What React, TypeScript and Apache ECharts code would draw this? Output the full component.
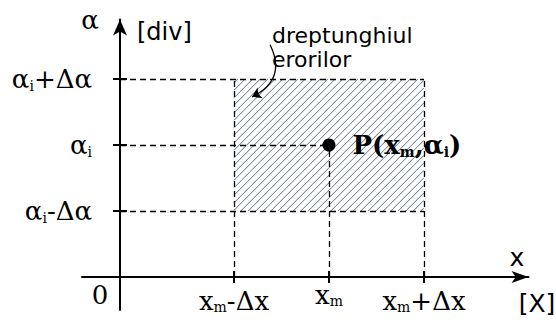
import React, { useEffect, useRef } from 'react';
import * as echarts from 'echarts';

// Tick positions (data units: Δx = 1, Δα = 1)
const xTicks = [1.2, 2.2, 3.2]; // xm-Δx, xm, xm+Δx
const xTickLabels = ['{b|x}{s|m}{b|-Δx}', '{h|x}{hs|m}', '{b|x}{s|m}{b|+Δx}'];
const yTicks = [1, 2, 3]; // αi-Δα, αi, αi+Δα
const yTickLabels = ['{b|α}{s|i}{b|-Δα}', '{b|α}{s|i}', '{b|α}{s|i}{b|+Δα}'];

// Measured point P(xm, αi)
const pointP = [2.2, 2];
// Error rectangle corners [xm-Δx, αi-Δα, xm+Δx, αi+Δα]
const errorRect = [1.2, 1, 3.2, 3];
// Leader from the caption to the rectangle
const leader = [
  [1.58, 3.52],
  [1.39, 2.73],
];

const SERIF = 'DejaVu Serif';
const SANS = 'DejaVu Sans';

export default function App() {
  const ref = useRef<HTMLDivElement>(null);

  useEffect(() => {
    if (!ref.current) return;
    const chart = echarts.init(ref.current, null, { renderer: 'svg' });

    const [rx0, ry0, rx1, ry1] = errorRect;
    const guides = [
      [[0, ry1], [rx1, ry1]],
      [[0, pointP[1]], [pointP[0], pointP[1]]],
      [[0, ry0], [rx1, ry0]],
      [[rx0, 0], [rx0, ry1]],
      [[pointP[0], 0], [pointP[0], pointP[1]]],
      [[rx1, 0], [rx1, ry1]],
    ];

    const pick = (ticks: number[], labels: string[]) => (v: number) => {
      const i = ticks.findIndex((t) => Math.abs(t - v) < 1e-6);
      return i >= 0 ? labels[i] : '';
    };

    const option: any = {
      animation: false,
      backgroundColor: '#fff',
      textStyle: { fontFamily: SERIF, color: '#000' },
      grid: {
        left: 82,
        right: 27.5,
        top: 19.6,
        bottom: 12,
        containLabel: false,
        outerBoundsMode: 'none',
      },
      xAxis: {
        type: 'value',
        min: -0.4,
        max: 4.3,
        splitLine: { show: false },
        axisTick: { show: false },
        axisLine: {
          onZero: true,
          symbol: ['none', 'arrow'],
          symbolSize: [9, 17],
          lineStyle: { color: '#000', width: 2 },
        },
        axisLabel: {
          customValues: xTicks,
          formatter: pick(xTicks, xTickLabels),
          margin: -28,
          color: '#000',
          rich: {
            b: { fontFamily: SERIF, fontSize: 26, lineHeight: 16, color: '#000', padding: [21.5, 0, 0, 0] },
            s: { fontFamily: SERIF, fontSize: 14, lineHeight: 3, color: '#000', padding: [34.5, 0, 0, 0] },
            h: { fontFamily: SERIF, fontSize: 26, color: '#000' },
            hs: { fontFamily: SERIF, fontSize: 14, color: '#000', padding: [12, 0, 0, 0] },
          },
        },
      },
      yAxis: {
        type: 'value',
        min: -0.5,
        max: 3.9,
        splitLine: { show: false },
        axisTick: { show: false },
        axisLine: {
          onZero: true,
          symbol: ['none', 'arrow'],
          symbolSize: [10.5, 16],
          lineStyle: { color: '#000', width: 2 },
        },
        axisLabel: {
          customValues: yTicks,
          formatter: pick(yTicks, yTickLabels),
          margin: -10,
          color: '#000',
          rich: {
            b: { fontFamily: SERIF, fontSize: 26, color: '#000' },
            s: { fontFamily: SERIF, fontSize: 14, color: '#000', padding: [14, 0, 0, 0] },
          },
        },
      },
      graphic: [
        { type: 'text', x: 90, y: 20, style: { text: 'α', font: `26px "${SERIF}"`, fill: '#000', align: 'center', verticalAlign: 'middle' } },
        { type: 'text', x: 137, y: 32, style: { text: '[div]', font: `24px "${SANS}"`, fill: '#000', align: 'left', verticalAlign: 'middle' } },
        { type: 'text', x: 272, y: 35, style: { text: 'dreptunghiul', font: `22px "${SANS}"`, fill: '#000', align: 'left', verticalAlign: 'middle' } },
        { type: 'text', x: 272, y: 59, style: { text: 'erorilor', font: `22px "${SANS}"`, fill: '#000', align: 'left', verticalAlign: 'middle' } },
        { type: 'text', x: 517, y: 257, style: { text: 'x', font: `25px "${SANS}"`, fill: '#000', align: 'center', verticalAlign: 'middle' } },
        { type: 'text', x: 537, y: 303, style: { text: '[X]', font: `25px "${SANS}"`, fill: '#000', align: 'center', verticalAlign: 'middle' } },
        { type: 'text', x: 100, y: 295, style: { text: '0', font: `26px "${SERIF}"`, fill: '#000', align: 'center', verticalAlign: 'middle' } },
      ],
      series: [
        {
          type: 'custom',
          coordinateSystem: 'cartesian2d',
          silent: true,
          z: 1,
          data: [errorRect],
          encode: { x: [0, 2], y: [1, 3] },
          renderItem: (params: any, api: any) => {
            const pA = api.coord([api.value(0), api.value(1)]);
            const pB = api.coord([api.value(2), api.value(3)]);
            const L = pA[0], B = pA[1], R = pB[0], T = pB[1];
            const step = 7.5;
            const children: any[] = [];
            for (let s = L + T + step / 2; s < R + B; s += step) {
              const xa = Math.max(L, s - B);
              const xb = Math.min(R, s - T);
              if (xb <= xa) continue;
              children.push({
                type: 'line',
                shape: { x1: xa, y1: s - xa, x2: xb, y2: s - xb },
                style: { stroke: '#5f6d90', lineWidth: 1 },
              });
            }
            return { type: 'group', children };
          },
        },
        {
          type: 'lines',
          coordinateSystem: 'cartesian2d',
          silent: true,
          z: 2,
          symbol: 'none',
          lineStyle: { color: '#000', width: 1.3, type: [6, 4], opacity: 1 },
          data: guides.map((c) => ({ coords: c })),
        },
        {
          type: 'lines',
          coordinateSystem: 'cartesian2d',
          silent: true,
          z: 3,
          symbol: ['none', 'arrow'],
          symbolSize: 9,
          lineStyle: { color: '#000', width: 1.3, curveness: 0.5, opacity: 1 },
          data: [{ coords: leader }],
        },
        {
          type: 'scatter',
          silent: true,
          z: 4,
          symbol: 'rect',
          itemStyle: { color: '#000', opacity: 1 },
          data: [
            ...xTicks.map((v) => ({ value: [v, 0], symbolSize: [2, 12] })),
            ...yTicks.map((v) => ({ value: [0, v], symbolSize: [14, 2] })),
          ],
        },
        {
          type: 'scatter',
          silent: true,
          z: 5,
          symbol: 'circle',
          symbolSize: 13,
          itemStyle: { color: '#000', opacity: 1 },
          data: [pointP],
          label: {
            show: true,
            position: 'right',
            distance: 17,
            formatter: '{p|P(x}{ps|m}{p|,α}{ps|i}{p|)}',
            rich: {
              p: { fontFamily: SERIF, fontSize: 26, fontWeight: 'bold', color: '#000' },
              ps: { fontFamily: SERIF, fontSize: 14, fontWeight: 'bold', color: '#000', padding: [14, 0, 0, 0] },
            },
          },
        },
      ],
    };

    chart.setOption(option);
    return () => chart.dispose();
  }, []);

  return (
    <div
      ref={ref}
      style={{ position: 'fixed', left: 0, top: 0, width: 556, height: 322, background: '#fff' }}
    />
  );
}
